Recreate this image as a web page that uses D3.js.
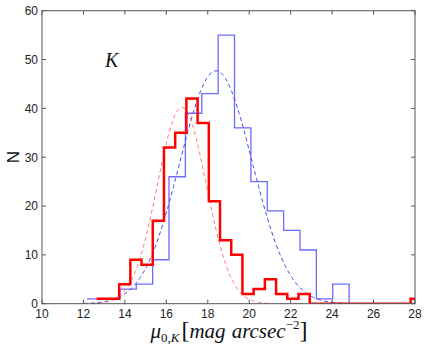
<!DOCTYPE html>
<html>
<head>
<meta charset="utf-8">
<script src="https://cdn.jsdelivr.net/npm/d3@7"></script>
<style>
  body { margin: 0; background: #fff; }
  svg { display: block; overflow: visible; }
</style>
</head>
<body>
<svg id="chart"></svg>
<script>
// histogram data
const blueStart = 12.18, blueWidth = 0.79;
const blueCounts = [1, 1, 3, 4, 9, 26, 39, 43, 55, 36, 25, 19, 15, 11, 1, 4];

const redStart = 12.64, redWidth = 0.541;
const redCounts = [1, 1, 4, 9, 8, 17, 32, 35, 42, 37, 21, 13, 10, 2, 3, 5, 2, 1, 2,
                   0, 0, 0, 0, 0, 0, 0, 0, 0, 1];

// gaussian fits (amplitude, mean, sigma)
const blueFit = [47.7, 18.4, 1.75];
const redFit = [40.2, 16.75, 1.18];

const xTicks = [10, 12, 14, 16, 18, 20, 22, 24, 26, 28];
const yTicks = [0, 10, 20, 30, 40, 50, 60];

const width = 425, height = 346;
const margin = {top: 10.7, right: 10, bottom: 42.3, left: 42};
const innerWidth = width - margin.left - margin.right;
const innerHeight = height - margin.top - margin.bottom;

const svg = d3.select('#chart').attr('width', width).attr('height', height);

const x = d3.scaleLinear().domain([10, 28]).range([0, innerWidth]);
const y = d3.scaleLinear().domain([0, 60]).range([innerHeight, 0]);

svg.append('defs').append('clipPath').attr('id', 'plotclip')
  .append('rect').attr('x', 0).attr('y', -3).attr('width', innerWidth).attr('height', innerHeight + 3);

const g = svg.append('g').attr('transform', `translate(${margin.left},${margin.top})`);

const stepPoints = (start, w, counts) => {
  const pts = counts.map((c, i) => [start + i * w, c]);
  pts.push([start + counts.length * w, counts[counts.length - 1]]);
  pts.push([start + counts.length * w, 0]);
  return pts;
};

const stepLine = d3.line().x(d => x(d[0])).y(d => y(d[1])).curve(d3.curveStepAfter);
const plainLine = d3.line().x(d => x(d[0])).y(d => y(d[1]));

const gauss = (p, v) => p[0] * Math.exp(-((v - p[1]) ** 2) / (2 * p[2] * p[2]));
const curvePoints = (p, a, b) => d3.range(a, b + 0.001, 0.05).map(v => [v, gauss(p, v)]);

const plot = g.append('g').attr('clip-path', 'url(#plotclip)');

// blue histogram
plot.append('path')
  .attr('d', stepLine(stepPoints(blueStart, blueWidth, blueCounts)))
  .attr('fill', 'none')
  .attr('stroke', '#6b6bff')
  .attr('stroke-width', 1.3);

// blue fit
plot.append('path')
  .attr('d', plainLine(curvePoints(blueFit, 12.0, 24.6)))
  .attr('fill', 'none')
  .attr('stroke', '#4444ee')
  .attr('stroke-width', 1)
  .attr('stroke-dasharray', '4,3');

// red fit
plot.append('path')
  .attr('d', plainLine(curvePoints(redFit, 12.4, 22.6)))
  .attr('fill', 'none')
  .attr('stroke', '#ff7777')
  .attr('stroke-width', 1)
  .attr('stroke-dasharray', '4,3');

// red histogram
plot.append('path')
  .attr('d', stepLine(stepPoints(redStart, redWidth, redCounts)))
  .attr('fill', 'none')
  .attr('stroke', '#ff0000')
  .attr('stroke-width', 2.5);

// frame and ticks
const frameColor = '#555';
g.append('rect')
  .attr('width', innerWidth).attr('height', innerHeight)
  .attr('fill', 'none').attr('stroke', frameColor).attr('stroke-width', 1);

const axisFont = sel => sel.attr('font-family', 'Liberation Sans, Arial, sans-serif')
  .attr('font-size', 12).attr('fill', '#222');

const tickLen = 4;
g.selectAll('.xtick').data(xTicks).enter().append('path')
  .attr('d', d => `M${x(d)},${innerHeight}v${-tickLen}M${x(d)},0v${tickLen}`)
  .attr('stroke', frameColor);
g.selectAll('.ytick').data(yTicks).enter().append('path')
  .attr('d', d => `M0,${y(d)}h${tickLen}M${innerWidth},${y(d)}h${-tickLen}`)
  .attr('stroke', frameColor);

g.selectAll('.xlab').data(xTicks).enter().append('text')
  .call(axisFont)
  .attr('x', d => x(d)).attr('y', innerHeight + 14.5)
  .attr('text-anchor', 'middle')
  .text(d => d);

g.selectAll('.ylab').data(yTicks).enter().append('text')
  .call(axisFont)
  .attr('x', -4).attr('y', d => y(d)).attr('dy', '0.36em')
  .attr('text-anchor', 'end')
  .text(d => d);

// y label
svg.append('text')
  .attr('transform', `translate(19,157) rotate(-90)`)
  .attr('text-anchor', 'middle')
  .attr('font-family', 'Liberation Sans, Arial, sans-serif')
  .attr('font-size', 17)
  .attr('fill', '#111')
  .text('N');

// panel label
svg.append('text')
  .attr('x', 105).attr('y', 67)
  .attr('font-family', 'Liberation Serif, Times New Roman, serif')
  .attr('font-style', 'italic')
  .attr('font-size', 20)
  .attr('fill', '#111')
  .text('K');

// x label
const xl = svg.append('text')
  .attr('x', 229).attr('y', 338)
  .attr('text-anchor', 'middle')
  .attr('font-family', 'Liberation Serif, Times New Roman, serif')
  .attr('font-size', 21)
  .attr('fill', '#111');
xl.append('tspan').attr('font-style', 'italic').text('μ');
xl.append('tspan').attr('font-size', 13).attr('dy', 4).text('0,');
xl.append('tspan').attr('font-size', 13).attr('font-style', 'italic').text('K');
xl.append('tspan').attr('dy', -4).attr('dx', 2).attr('font-size', 24).text('[');
xl.append('tspan').attr('font-style', 'italic').text('mag');
xl.append('tspan').attr('font-style', 'italic').attr('dx', 6).text('arcsec');
xl.append('tspan').attr('font-size', 13).attr('dy', -9).text('−2');
xl.append('tspan').attr('font-size', 24).attr('dy', 9).text(']');
</script>
</body>
</html>
